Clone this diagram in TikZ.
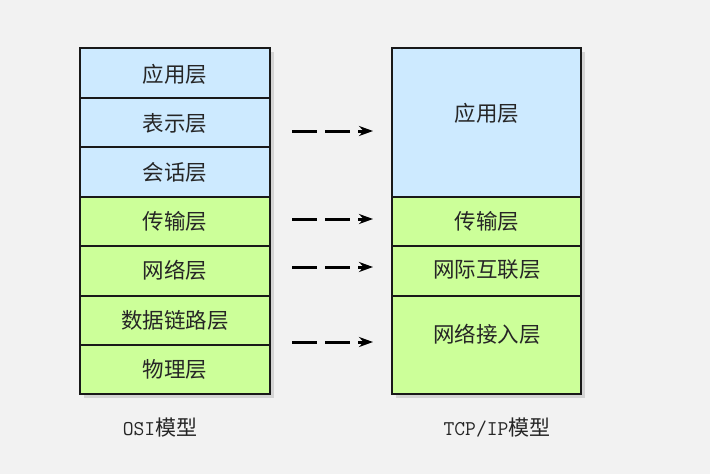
\documentclass[tikz,border=0pt]{standalone}
\usepackage{fontspec}
\newfontfamily\cjk{Noto Sans CJK SC}
\usetikzlibrary{arrows.meta}
\definecolor{bgc}{RGB}{242,242,242}
\definecolor{lblue}{RGB}{205,234,255}
\definecolor{lgreen}{RGB}{204,255,153}
\begin{document}
\begin{tikzpicture}[x=1pt,y=-1pt,
  layer/.style={draw=black!90,line width=1.5pt},
  bluebox/.style={fill=lblue},
  greenbox/.style={fill=lgreen},
  lbl/.style={font=\cjk\fontsize{21.5}{24}\selectfont,text=black!85},
  captiontext/.style={font=\ttfamily\fontsize{21}{24}\selectfont,text=black!85},
  flow/.style={line width=3pt,dash pattern=on 25pt off 8pt,-{Stealth[length=14pt,width=10pt]}},
  shadowbox/.style={fill=black,opacity=0.12}]
\fill[bgc] (0,0) rectangle (710,474);
\useasboundingbox (0,0) rectangle (710,474);
% shadows
\fill[shadowbox] (84,52) rectangle (274,398);
\fill[shadowbox] (396,52) rectangle (585,398);
% left stack
\draw[layer,bluebox] (80,48) rectangle (270,98);
\draw[layer,bluebox] (80,98) rectangle (270,147);
\draw[layer,bluebox] (80,147) rectangle (270,197);
\draw[layer,greenbox] (80,197) rectangle (270,246);
\draw[layer,greenbox] (80,246) rectangle (270,296);
\draw[layer,greenbox] (80,296) rectangle (270,345);
\draw[layer,greenbox] (80,345) rectangle (270,394);
\node[lbl] (l1) at (175,74) {应用层};
\node[lbl] (l2) at (175,123) {表示层};
\node[lbl] (l3) at (175,172) {会话层};
\node[lbl] (l4) at (175,221) {传输层};
\node[lbl] (l5) at (175,270) {网络层};
\node[lbl] (l6) at (175,320) {数据链路层};
\node[lbl] (l7) at (175,369) {物理层};
% right stack
\draw[layer,bluebox] (392,48) rectangle (581,197);
\draw[layer,greenbox] (392,197) rectangle (581,246);
\draw[layer,greenbox] (392,246) rectangle (581,296);
\draw[layer,greenbox] (392,296) rectangle (581,394);
\node[lbl] (r1) at (487,113) {应用层};
\node[lbl] (r2) at (487,221) {传输层};
\node[lbl] (r3) at (487,270) {网际互联层};
\node[lbl] (r4) at (487,334) {网络接入层};
% arrows
\coordinate (a1s) at (292,131); \coordinate (a1e) at (373,131);
\coordinate (a2s) at (292,219); \coordinate (a2e) at (373,219);
\coordinate (a3s) at (292,267); \coordinate (a3e) at (373,267);
\coordinate (a4s) at (292,342); \coordinate (a4e) at (373,342);
\draw[flow] (a1s) -- (a1e);
\draw[flow] (a2s) -- (a2e);
\draw[flow] (a3s) -- (a3e);
\draw[flow] (a4s) -- (a4e);
% captions
\node[captiontext] (c1) at (160,428) {OSI{\cjk 模型}};
\node[captiontext] (c2) at (497,428) {TCP/IP{\cjk 模型}};
\end{tikzpicture}
\end{document}
